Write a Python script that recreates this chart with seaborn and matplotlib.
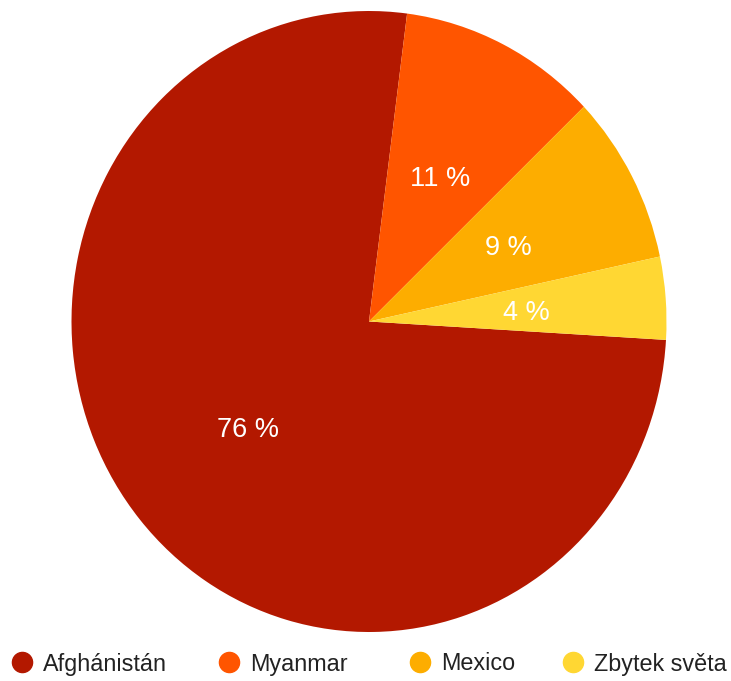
import matplotlib
matplotlib.use("Agg")
import matplotlib.pyplot as plt
from matplotlib.lines import Line2D
import seaborn as sns

categories = ["Afghánistán", "Myanmar", "Mexico", "Zbytek světa"]
shares = [76.1, 10.8, 8.8, 4.3]
colors = ["#B31800", "#FF5500", "#FDAD00", "#FFD733"]

sns.set_theme(style="white")
plt.rcParams["font.family"] = ["Liberation Sans", "DejaVu Sans"]

W, H = 731, 681
fig = plt.figure(figsize=(W / 100, H / 100), dpi=100)
cx, cy, rx, ry = 369, 321.5, 297.5, 310.5
ax = fig.add_axes([(cx - rx) / W, (H - cy - ry) / H, 2 * rx / W, 2 * ry / H])

palette = sns.color_palette(colors)
wedges, texts, autotexts = ax.pie(
    shares, colors=palette, startangle=-3.4, counterclock=False,
    autopct=lambda p: f"{p:.0f} %", pctdistance=0.53, radius=1,
    wedgeprops=dict(linewidth=0),
    textprops=dict(color="white", fontsize=19.5),
)
# small downward nudge of the percentage labels
for t in autotexts:
    x, y = t.get_position()
    t.set_position((x, y - 4 / ry))
ax.set_aspect("auto")
ax.set_xlim(-1, 1)
ax.set_ylim(-1, 1)
ax.axis("off")

# legend, one entry each
fs = 16.8
em = fs * 100 / 72
centers = [22, 229, 420, 573]
for name, col, xc in zip(categories, palette, centers):
    h = Line2D([], [], marker="o", linestyle="none", markersize=14.5,
               markerfacecolor=col, markeredgecolor=col)
    leg = fig.legend([h], [name], loc="center left",
                     bbox_to_anchor=((xc - em / 2) / W, (H - 664) / H),
                     frameon=False, fontsize=fs, handlelength=1.0,
                     handletextpad=0.4, borderpad=0, borderaxespad=0)
    for t in leg.get_texts():
        t.set_color("#222222")

fig.savefig("out.png", dpi=100)
